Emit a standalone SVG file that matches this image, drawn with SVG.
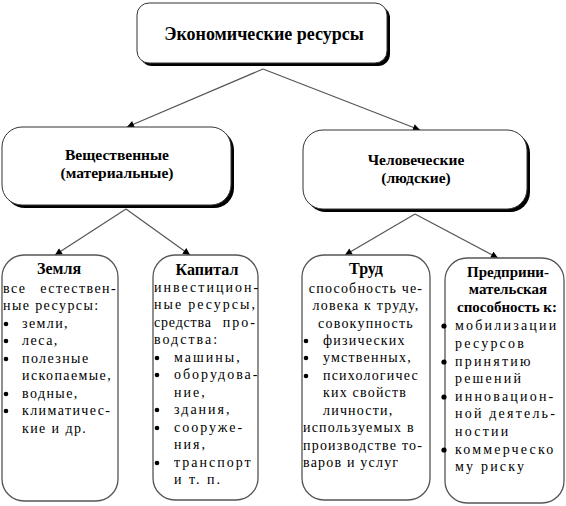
<svg xmlns="http://www.w3.org/2000/svg" width="566" height="506" viewBox="0 0 566 506">
<defs>
<marker id="ah" viewBox="0 0 10 10" refX="10" refY="5" markerWidth="8" markerHeight="7" markerUnits="userSpaceOnUse" orient="auto">
<path d="M0,0 L10,5 L0,10 z" fill="#000"/>
</marker>
<style>
.sh{fill:#000}
.bx{fill:#fff;stroke:#333;stroke-width:1}
.bb{fill:#fff;stroke:#555;stroke-width:1.3}
.cn line{stroke:#555;stroke-width:1.2;marker-end:url(#ah)}
.t1{font-size:18px;font-weight:bold;text-anchor:middle}
.t2{font-size:15.5px;font-weight:bold;text-anchor:middle}
.t4{font-size:16px;font-weight:bold;text-anchor:middle}
.t3{font-size:15px;font-weight:bold;text-anchor:middle}
.b{font-size:14px}
.s1{letter-spacing:1.4px}
.s2{letter-spacing:2px}
.s3{letter-spacing:1.2px}
.s4{letter-spacing:2.2px}
.s5{letter-spacing:0.8px}
.e{text-anchor:end}
.m{text-anchor:middle}
.d{fill:#000}
</style>
</defs>
<g id="connectors" class="cn">
<line x1="263" y1="69" x2="127" y2="127"/>
<line x1="263" y1="69" x2="420" y2="130"/>
<line x1="126" y1="209" x2="55" y2="255"/>
<line x1="126" y1="209" x2="190" y2="255"/>
<line x1="415" y1="214" x2="345" y2="255"/>
<line x1="415" y1="214" x2="498" y2="258"/>
</g>
<g id="root">
<rect class="sh" x="140" y="6" width="250" height="60" rx="12"/>
<rect class="bx" x="137" y="3" width="250" height="60" rx="12"/>
<text font-family="Liberation Serif" class="t1" x="264" y="40">Экономические ресурсы</text>
</g>
<g id="material">
<rect class="sh" x="5" y="130" width="229" height="78" rx="20"/>
<rect class="bx" x="2" y="127" width="229" height="78" rx="20"/>
<text font-family="Liberation Serif" class="t2" x="117" y="160">Вещественные</text>
<text font-family="Liberation Serif" class="t2" x="117" y="178">(материальные)</text>
</g>
<g id="human">
<rect class="sh" x="306" y="133" width="224" height="79" rx="20"/>
<rect class="bx" x="303" y="130" width="224" height="79" rx="20"/>
<text font-family="Liberation Serif" class="t2" x="416" y="165">Человеческие</text>
<text font-family="Liberation Serif" class="t2" x="416" y="183">(людские)</text>
</g>
<g id="land">
<rect class="bb" x="2" y="255" width="116" height="246" rx="22"/>
<text font-family="Liberation Serif" class="t4" x="59" y="274">Земля</text>
<text font-family="Liberation Serif" class="b s1" x="3" y="293">все</text>
<text font-family="Liberation Serif" class="b s1 e" x="117" y="293">естествен-</text>
<text font-family="Liberation Serif" class="b s1" x="3" y="310">ные ресурсы:</text>
<text font-family="Liberation Serif" class="b s1" x="22" y="328">земли,</text>
<text font-family="Liberation Serif" class="b s1" x="22" y="345">леса,</text>
<text font-family="Liberation Serif" class="b s1" x="22" y="363">полезные</text>
<text font-family="Liberation Serif" class="b s1" x="22" y="380">ископаемые,</text>
<text font-family="Liberation Serif" class="b s1" x="22" y="398">водные,</text>
<text font-family="Liberation Serif" class="b s1" x="22" y="415">климатичес-</text>
<text font-family="Liberation Serif" class="b s1" x="22" y="433">кие и др.</text>
<circle class="d" cx="6" cy="324" r="2.3"/>
<circle class="d" cx="6" cy="341" r="2.3"/>
<circle class="d" cx="6" cy="359" r="2.3"/>
<circle class="d" cx="6" cy="394" r="2.3"/>
<circle class="d" cx="6" cy="411" r="2.3"/>
</g>
<g id="capital">
<rect class="bb" x="153" y="255" width="105" height="245" rx="22"/>
<text font-family="Liberation Serif" class="t4" x="207" y="275">Капитал</text>
<text font-family="Liberation Serif" class="b s2" x="154" y="292">инвестицион-</text>
<text font-family="Liberation Serif" class="b s2" x="154" y="309">ные</text>
<text font-family="Liberation Serif" class="b s2 e" x="257" y="309">ресурсы,</text>
<text font-family="Liberation Serif" class="b s5" x="154" y="327">средства</text>
<text font-family="Liberation Serif" class="b s2 e" x="257" y="327">про-</text>
<text font-family="Liberation Serif" class="b s2" x="154" y="344">водства:</text>
<text font-family="Liberation Serif" class="b s2" x="174" y="362">машины,</text>
<text font-family="Liberation Serif" class="b s2" x="174" y="379">оборудова-</text>
<text font-family="Liberation Serif" class="b s2" x="174" y="397">ние,</text>
<text font-family="Liberation Serif" class="b s2" x="174" y="414">здания,</text>
<text font-family="Liberation Serif" class="b s2" x="174" y="432">сооруже-</text>
<text font-family="Liberation Serif" class="b s2" x="174" y="449">ния,</text>
<text font-family="Liberation Serif" class="b s2" x="174" y="467">транспорт</text>
<text font-family="Liberation Serif" class="b s2" x="174" y="484">и т. п.</text>
<circle class="d" cx="157" cy="358" r="2.3"/>
<circle class="d" cx="157" cy="375" r="2.3"/>
<circle class="d" cx="157" cy="410" r="2.3"/>
<circle class="d" cx="157" cy="428" r="2.3"/>
<circle class="d" cx="157" cy="463" r="2.3"/>
</g>
<g id="labour">
<rect class="bb" x="302" y="255" width="128" height="245" rx="22"/>
<text font-family="Liberation Serif" class="t4" x="366" y="274">Труд</text>
<text font-family="Liberation Serif" class="b s3 m" x="366" y="293">способность че-</text>
<text font-family="Liberation Serif" class="b s3 m" x="366" y="310">ловека к труду,</text>
<text font-family="Liberation Serif" class="b s3 m" x="366" y="328">совокупность</text>
<text font-family="Liberation Serif" class="b s3" x="323" y="345">физических</text>
<text font-family="Liberation Serif" class="b s3" x="323" y="362">умственных,</text>
<text font-family="Liberation Serif" class="b s3" x="323" y="380">психологичес</text>
<text font-family="Liberation Serif" class="b s3" x="323" y="397">ких свойств</text>
<text font-family="Liberation Serif" class="b s3" x="323" y="415">личности,</text>
<text font-family="Liberation Serif" class="b s3" x="303" y="432">используемых в</text>
<text font-family="Liberation Serif" class="b s3" x="303" y="450">производстве то-</text>
<text font-family="Liberation Serif" class="b s3" x="303" y="467">варов и услуг</text>
<circle class="d" cx="306" cy="341" r="2.3"/>
<circle class="d" cx="306" cy="358" r="2.3"/>
<circle class="d" cx="306" cy="376" r="2.3"/>
</g>
<g id="entrepreneurship">
<rect class="bb" x="445" y="258" width="119" height="245" rx="22"/>
<text font-family="Liberation Serif" class="t3" x="508" y="277">Предприни-</text>
<text font-family="Liberation Serif" class="t3" x="508" y="294">мательская</text>
<text font-family="Liberation Serif" class="t3" x="507" y="312">способность к:</text>
<text font-family="Liberation Serif" class="b s4" x="455" y="330">мобилизации</text>
<text font-family="Liberation Serif" class="b s4" x="455" y="348">ресурсов</text>
<text font-family="Liberation Serif" class="b s4" x="455" y="366">принятию</text>
<text font-family="Liberation Serif" class="b s4" x="455" y="383">решений</text>
<text font-family="Liberation Serif" class="b s4" x="455" y="401">инновацион-</text>
<text font-family="Liberation Serif" class="b s4" x="455" y="418">ной деятель-</text>
<text font-family="Liberation Serif" class="b s4" x="455" y="436">ностии</text>
<text font-family="Liberation Serif" class="b s4" x="455" y="454">коммерческо</text>
<text font-family="Liberation Serif" class="b s4" x="455" y="471">му риску</text>
<circle class="d" cx="444" cy="326" r="2.6"/>
<circle class="d" cx="444" cy="362" r="2.6"/>
<circle class="d" cx="444" cy="397" r="2.6"/>
<circle class="d" cx="444" cy="450" r="2.6"/>
</g>
</svg>
